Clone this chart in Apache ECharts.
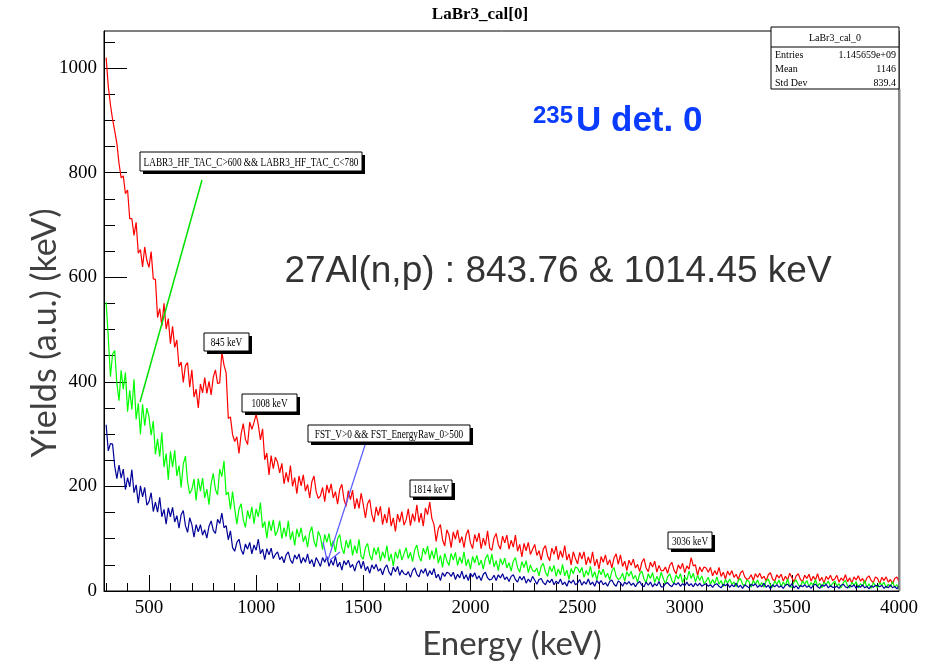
<!DOCTYPE html>
<html><head><meta charset="utf-8">
<script src="https://cdn.jsdelivr.net/npm/echarts@6/dist/echarts.min.js"></script>
<style>html,body{margin:0;padding:0;background:#fff}#c{width:926px;height:665px}</style>
</head><body><div id="c"></div>
<script>
// Histogram bins: first bin at binStart keV, width binWidth keV
const binStart = 300;
const binWidth = 10;

const redCounts = [
1020,965,930,902,880,856,818,790,794,760,767,712,712,680,705,646,653,620,658,632,
619,649,597,596,523,540,507,550,501,521,473,506,466,480,429,438,399,431,437,390,
423,371,386,350,396,379,408,378,401,375,409,423,397,398,457,432,417,330,333,299,
286,295,263,301,320,290,280,323,309,322,338,318,289,310,251,264,222,259,234,256,
246,226,244,205,227,208,240,200,217,186,220,201,222,191,204,178,209,220,190,177,
182,198,171,203,187,205,178,190,166,194,204,175,162,192,175,193,157,177,158,187,
165,140,167,175,146,132,161,144,162,127,147,130,160,124,140,114,147,132,152,126,
136,157,125,148,133,165,131,149,124,159,146,170,139,127,95,119,127,98,86,117,
107,83,113,99,117,92,104,83,108,117,92,81,108,94,111,81,101,87,115,82,
78,101,110,89,80,105,92,107,80,97,84,107,76,89,65,91,77,93,70,80,
89,68,77,59,80,87,67,58,82,70,86,60,77,64,87,59,71,50,75,62,
52,74,61,75,50,65,53,75,48,61,42,66,55,69,50,60,44,63,71,51,
69,47,57,39,59,49,61,44,51,37,55,62,44,37,55,46,57,36,49,39,
39,46,34,49,55,40,33,50,42,53,35,48,42,64,48,50,30,46,37,46,
44,36,45,29,39,31,45,28,36,23,38,30,39,26,32,22,34,39,27,22,
24,31,20,33,26,34,24,28,19,31,35,23,19,31,25,32,19,28,21,34,
26,17,29,33,22,18,30,24,32,19,28,21,33,19,26,15,28,22,30,20,
23,30,17,25,20,31,18,25,15,27,21,29,19,24,15,25,29,20,16,27,
24,14,26,20,27,17,22,14,24,27,18];

const greenCounts = [
552,485,410,453,460,397,364,422,386,418,343,384,347,405,328,359,300,357,316,350,
333,298,325,261,291,257,303,237,263,213,267,237,269,220,240,198,243,258,209,186,
194,214,173,215,191,216,178,195,165,206,225,194,184,233,219,249,184,189,156,190,
157,128,157,167,136,122,154,138,161,129,157,142,169,121,133,101,134,115,136,106,
115,134,100,121,104,134,98,114,87,119,103,121,94,106,84,112,123,95,84,114,
104,79,108,93,110,85,96,75,100,108,82,71,97,82,99,68,87,72,99,66,
61,83,91,69,59,83,69,84,57,75,63,87,57,71,48,75,62,80,59,71,
83,62,74,56,79,88,66,57,82,70,86,60,77,61,83,53,68,45,72,58,
49,72,59,74,49,65,53,75,48,61,42,66,54,68,49,59,42,62,70,51,
71,46,58,39,62,50,63,44,54,38,57,64,45,36,56,45,58,35,50,39,
37,44,29,47,53,36,28,47,37,49,28,42,31,51,29,40,22,43,33,46,
44,35,45,26,39,30,47,26,37,21,40,31,42,26,34,21,38,45,28,22,
25,34,19,37,28,38,23,30,17,33,38,23,16,33,24,35,16,28,19,36,
24,13,27,33,20,14,31,23,33,16,27,21,38,24,34,17,30,20,29,14,
19,26,13,22,14,27,13,20,8,22,15,23,13,17,8,20,24,13,9,21,
18,7,20,13,21,10,16,7,19,23,11,7,19,13,21,8,17,10,23,9,
7,17,21,12,8,19,13,20,8,16,10,22,9,15,6,17,12,19,9,14,
19,9,14,6,16,20,10,6,17,11,18,6,14,9,20,7,14,5,16,10,
6,16,11,17,6,13,8,18,7,12,5];

const blueCounts = [
318,268,282,281,239,215,241,216,233,194,217,199,232,188,203,168,201,180,198,164,
171,188,152,170,151,179,142,156,128,159,142,160,132,144,120,146,154,125,112,140,
127,103,127,113,127,107,117,101,124,134,116,110,137,129,149,121,125,98,115,83,
76,93,99,79,70,90,80,93,71,88,78,99,71,80,60,81,69,82,62,70,
75,60,66,54,69,75,59,53,69,61,71,53,64,55,71,52,60,46,64,56,
47,64,55,66,47,59,49,66,46,55,40,58,50,59,45,51,38,53,58,43,
57,39,47,34,50,42,51,38,43,31,44,50,36,30,46,37,47,30,40,33,
31,37,26,39,44,32,27,41,34,43,28,39,31,43,25,32,20,35,28,36,
34,28,36,22,32,25,38,23,31,20,34,27,35,23,29,20,32,36,25,21,
23,30,20,31,25,33,22,27,18,28,31,22,17,28,21,28,15,23,17,28,
21,13,22,24,16,12,21,16,23,12,19,14,23,12,17,9,20,15,21,12,
15,22,11,18,13,23,12,17,9,20,14,20,12,16,9,18,21,13,9,19,
16,9,17,13,18,11,15,8,15,18,11,8,17,11,17,8,14,10,18,8,
8,14,16,11,8,15,12,16,9,14,10,17,10,14,8,15,10,15,9,12,
14,9,12,7,12,14,9,6,13,10,14,7,12,8,15,7,11,5,12,9,
6,13,10,14,7,11,8,15,7,11,4,12,8,12,7,10,5,11,13,8,
14,6,10,4,11,8,12,7,10,5,11,13,8,5,12,9,13,6,10,7,
7,9,5,11,13,8,6,11,8,12,5,10,7,12,6,9,4,10,7,11,
10,8,11,5,9,6,12,6,9,4,10];

const xMajorTicks = [500,1000,1500,2000,2500,3000,3500,4000];
const xMinorTicks = [300,400,500,600,700,800,900,1000,1100,1200,1300,1400,1500,1600,1700,1800,1900,2000,2100,2200,2300,2400,2500,2600,2700,2800,2900,3000,3100,3200,3300,3400,3500,3600,3700,3800,3900,4000];
const yMajorTicks = [0,200,400,600,800,1000];
const yMinorTicks = [50,100,150,200,250,300,350,400,450,500,550,600,650,700,750,800,850,900,950,1000,1050];

const statsRows = [['Entries','1.145659e+09'],['Mean','1146'],['Std Dev','839.4']];

function toPoints(counts){ return counts.map((v,i)=>[binStart + i*binWidth, v]); }

const serif = 'Liberation Serif, Times New Roman, serif';
const sans = 'Liberation Sans, Arial, sans-serif';
const chart = echarts.init(document.getElementById('c'), null, {renderer:'canvas'});

function pave(x, y, w, h, text){
  return [
    {type:'rect', shape:{x:x+3, y:y+3, width:w, height:h}, style:{fill:'#000'}, z:100},
    {type:'rect', shape:{x:x, y:y, width:w, height:h}, style:{fill:'#fff', stroke:'#000', lineWidth:1}, z:101},
    {type:'text', x:x + w/2, y:y + h/2 + 1, scaleX:0.77, style:{text:text, font:'12px ' + serif, fill:'#000', align:'center', verticalAlign:'middle'}, z:102}
  ];
}

const graphics = [].concat(
  [{type:'text', x:480, y:15, style:{text:'LaBr3_cal[0]', font:'bold 17px ' + serif, fill:'#000', align:'center', verticalAlign:'middle'}, z:100}],
  [{type:'rect', shape:{x:771, y:27, width:128, height:62}, style:{fill:'#fff', stroke:'#000', lineWidth:1}, z:100},
   {type:'line', shape:{x1:771, y1:47, x2:899, y2:47}, style:{stroke:'#000', lineWidth:1}, z:101},
   {type:'text', x:835, y:38, style:{text:'LaBr3_cal_0', font:'10px ' + serif, fill:'#000', align:'center', verticalAlign:'middle'}, z:101}],
  statsRows.map((r,i)=>({type:'text', x:775, y:55 + i*14, style:{text:r[0], font:'10px ' + serif, fill:'#000', align:'left', verticalAlign:'middle'}, z:101})),
  statsRows.map((r,i)=>({type:'text', x:896, y:55 + i*14, style:{text:r[1], font:'10px ' + serif, fill:'#000', align:'right', verticalAlign:'middle'}, z:101})),
  [{type:'line', shape:{x1:899.5, y1:89, x2:899.5, y2:591}, style:{stroke:'#888', lineWidth:2}, z:99}],
  [{type:'text', x:533, y:116, style:{text:'235', font:'bold 24px ' + sans, fill:'#0a3cff', align:'left', verticalAlign:'middle'}, z:100},
   {type:'text', x:576, y:121, style:{text:'U det. 0', font:'bold 35px ' + sans, fill:'#0a3cff', align:'left', verticalAlign:'middle'}, z:100},
   {type:'text', x:558, y:272, style:{text:'27Al(n,p) : 843.76 & 1014.45 keV', font:'37px ' + sans, fill:'#333333', align:'center', verticalAlign:'middle'}, z:100},
   {type:'text', x:45, y:333, rotation:Math.PI/2, style:{text:'Yields (a.u.) (keV)', font:'34px Lato, sans-serif', fill:'#404040', align:'center', verticalAlign:'middle'}, z:100},
   {type:'text', x:512, y:644, style:{text:'Energy (keV)', font:'33px Lato, sans-serif', fill:'#404040', align:'center', verticalAlign:'middle'}, z:100}],
  [{type:'line', shape:{x1:202, y1:180, x2:140, y2:402}, style:{stroke:'#00e000', lineWidth:1.5}, z:98},
   {type:'line', shape:{x1:366, y1:442, x2:328, y2:560}, style:{stroke:'#5a5aff', lineWidth:1.2}, z:98},
   {type:'line', shape:{x1:323, y1:542, x2:327, y2:560}, style:{stroke:'#5a5aff', lineWidth:1.2}, z:98},
   {type:'line', shape:{x1:330, y1:560, x2:340, y2:552}, style:{stroke:'#5a5aff', lineWidth:1.2}, z:98}],
  pave(140, 152, 222, 19, 'LABR3_HF_TAC_C>600 && LABR3_HF_TAC_C<780'),
  pave(204, 333, 45, 18, '845 keV'),
  pave(242, 394, 55, 18, '1008 keV'),
  pave(308, 425, 162, 17, 'FST_V>0 && FST_EnergyRaw_0>500'),
  pave(410, 480, 42, 17, '1814 keV'),
  pave(668, 532, 44, 17, '3036 keV')
);

const plain = v => String(v);

const option = {
  animation:false,
  backgroundColor:'#fff',
  grid:{left:104, right:27, top:31, bottom:74, show:true, borderColor:'#000', borderWidth:1},
  xAxis:[
    {type:'value', min:290, max:4000, position:'bottom',
     axisLine:{show:true, lineStyle:{color:'#000', width:1}},
     axisTick:{show:true, inside:true, length:16, customValues:xMajorTicks, lineStyle:{color:'#000'}},
     axisLabel:{customValues:xMajorTicks, formatter:plain, color:'#000', fontFamily:serif, fontSize:19, margin:8},
     splitLine:{show:false}},
    {type:'value', min:290, max:4000, position:'bottom',
     axisLine:{show:false},
     axisTick:{show:true, inside:true, length:8, customValues:xMinorTicks, lineStyle:{color:'#000'}},
     axisLabel:{show:false}, splitLine:{show:false}}
  ],
  yAxis:[
    {type:'value', min:0, max:1071, position:'left',
     axisLine:{show:true, lineStyle:{color:'#000', width:1}},
     axisTick:{show:true, inside:true, length:23, customValues:yMajorTicks, lineStyle:{color:'#000'}},
     axisLabel:{customValues:yMajorTicks, formatter:plain, color:'#000', fontFamily:serif, fontSize:19, margin:7},
     splitLine:{show:false}},
    {type:'value', min:0, max:1071, position:'left',
     axisLine:{show:false},
     axisTick:{show:true, inside:true, length:11, customValues:yMinorTicks, lineStyle:{color:'#000'}},
     axisLabel:{show:false}, splitLine:{show:false}}
  ],
  series:[
    {name:'all', type:'line', xAxisIndex:0, yAxisIndex:0, data:toPoints(redCounts), showSymbol:false, symbol:'none', lineStyle:{color:'#ff0000', width:1.2}, itemStyle:{color:'#ff0000'}, clip:true, z:2},
    {name:'TAC gate', type:'line', xAxisIndex:0, yAxisIndex:0, data:toPoints(greenCounts), showSymbol:false, symbol:'none', lineStyle:{color:'#00ff00', width:1.2}, itemStyle:{color:'#00ff00'}, clip:true, z:3},
    {name:'FST gate', type:'line', xAxisIndex:0, yAxisIndex:0, data:toPoints(blueCounts), showSymbol:false, symbol:'none', lineStyle:{color:'#000099', width:1.2}, itemStyle:{color:'#000099'}, clip:true, z:4}
  ],
  graphic:graphics
};
chart.setOption(option);
</script>
</body></html>
